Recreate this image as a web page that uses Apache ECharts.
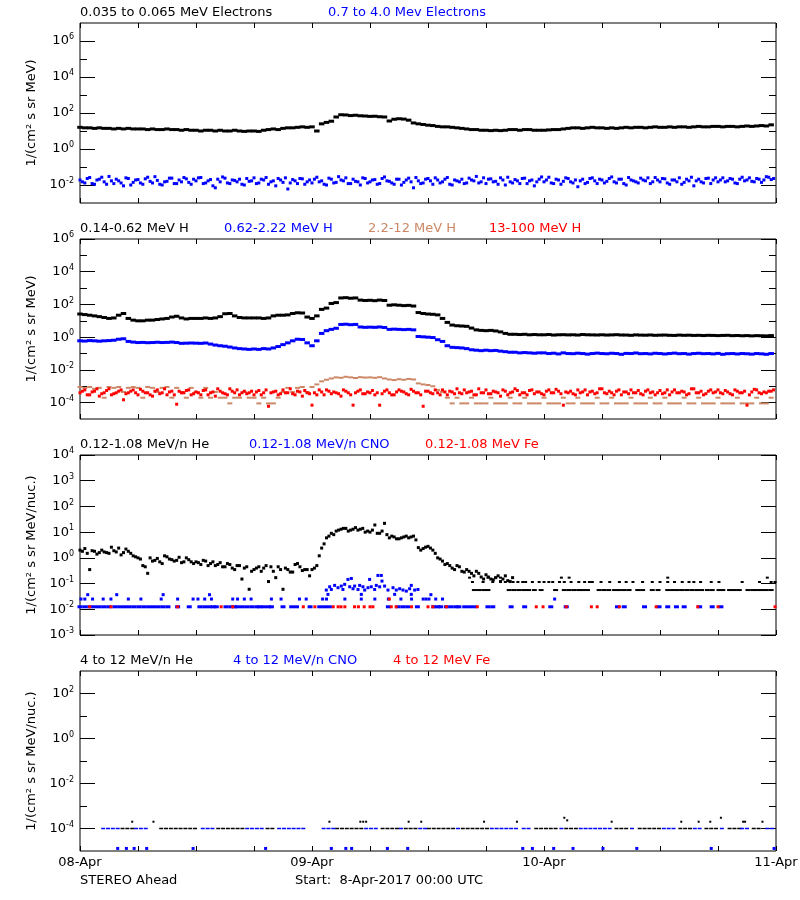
<!DOCTYPE html>
<html><head><meta charset="utf-8">
<script src="https://cdn.jsdelivr.net/npm/echarts@6/dist/echarts.min.js"></script>
<style>html,body{margin:0;padding:0;background:#fff}#c{width:800px;height:900px}</style>
</head><body><div id="c"></div><script>
// ---------------- DATA ----------------
const STEP_H = 0.5;   // sample spacing of the continuous series (hours from 08-Apr 00:00)
const OFFSET_H = 0.25; // second sample set, taken between the first ones
const dayLabels = ['08-Apr', '09-Apr', '10-Apr', '11-Apr'];

// Panel 1: electrons
const eLow = [16,15,15,14,15,14,14,13,14,13,14,13,
 13,13,12,13,12,12,13,12,12,11,12,11,
 11,10,11,11,10,11,10,10,11,10,9.5,10,
 10,9.5,11,12,13,12,14,15,15,16,17,16,
 17,10,25,30,35,60,80,78,72,75,70,68,
 65,66,62,60,36,45,48,46,40,28,25,23,
 21,20,18,17,17,16,15,14,13,12,12,11,
 11,10.5,11,10.5,11,12,12,11,12,12,11,11,
 11,11.5,12,12,13,14,15,15,14,15,16,15,
 15,14,15,14,15,16,15,16,16,15,16,17,
 16,16,17,16,17,17,16,17,18,17,17,18,
 18,17,18,18,17,18,19,18,19,20,19,22];
const eHigh = [0.019,0.013,0.026,0.011,0.021,0.015,0.030,0.012,0.017,0.009,0.023,0.014,
 0.020,0.011,0.027,0.013,0.018,0.010,0.016,0.024,0.012,0.015,0.022,0.011,
 0.017,0.026,0.013,0.020,0.007,0.015,0.024,0.012,0.018,0.021,0.010,0.016,
 0.025,0.013,0.019,0.011,0.017,0.023,0.014,0.006,0.020,0.012,0.022,0.015,
 0.013,0.027,0.017,0.010,0.021,0.014,0.019,0.025,0.012,0.016,0.010,0.023,
 0.015,0.020,0.012,0.028,0.016,0.011,0.021,0.014,0.024,0.007,0.017,0.013,
 0.023,0.011,0.019,0.015,0.026,0.010,0.017,0.021,0.013,0.019,0.030,0.015,
 0.012,0.022,0.016,0.025,0.010,0.015,0.020,0.012,0.024,0.017,0.009,0.021,
 0.015,0.027,0.012,0.019,0.016,0.023,0.013,0.008,0.021,0.014,0.025,0.012,
 0.019,0.016,0.028,0.013,0.021,0.010,0.019,0.015,0.024,0.017,0.012,0.026,
 0.015,0.022,0.011,0.019,0.025,0.014,0.017,0.009,0.021,0.013,0.024,0.019,
 0.015,0.025,0.017,0.021,0.012,0.027,0.019,0.016,0.023,0.014,0.029,0.020];
const eHighB = [0.015,0.023,0.012,0.019,0.027,0.011,0.017,0.021,0.013,0.025,0.010,0.019,
 0.013,0.022,0.016,0.029,0.011,0.015,0.024,0.012,0.019,0.026,0.014,0.021,
 0.025,0.012,0.017,0.009,0.021,0.028,0.013,0.019,0.015,0.011,0.023,0.017,
 0.012,0.021,0.026,0.015,0.009,0.019,0.025,0.013,0.017,0.023,0.011,0.019,
 0.021,0.015,0.011,0.024,0.013,0.029,0.017,0.012,0.021,0.015,0.025,0.013,
 0.019,0.011,0.023,0.017,0.013,0.021,0.010,0.019,0.015,0.026,0.012,0.021,
 0.017,0.025,0.013,0.021,0.011,0.019,0.015,0.012,0.024,0.017,0.013,0.025,
 0.021,0.015,0.011,0.019,0.027,0.013,0.017,0.023,0.012,0.019,0.015,0.028,
 0.019,0.013,0.021,0.011,0.025,0.015,0.019,0.017,0.012,0.023,0.017,0.021,
 0.013,0.023,0.015,0.021,0.012,0.026,0.017,0.013,0.019,0.025,0.015,0.019,
 0.023,0.013,0.019,0.015,0.011,0.021,0.027,0.017,0.015,0.023,0.012,0.025,
 0.019,0.015,0.023,0.013,0.021,0.017,0.025,0.015,0.021,0.019,0.027,0.023];

// Panel 2: protons
const hA = [26,24,22,20,18,16,14,15,22,28,14,11,
 10,10,11,11,12,13,14,17,19,15,13,14,
 14,14,15,14,15,18,27,28,20,16,15,15,
 15,15,14,15,20,22,22,23,28,31,30,17,
 14,20,50,60,115,130,250,260,240,250,185,175,
 180,170,185,175,90,95,90,85,88,80,32,28,
 26,25,23,14,8,5.5,5,4.8,4.6,3.6,2.8,2.6,
 2.5,2.6,2.4,2.1,1.7,1.5,1.5,1.45,1.5,1.4,1.45,1.4,
 1.4,1.45,1.35,1.4,1.42,1.38,1.4,1.35,1.45,1.4,1.38,1.36,
 1.4,1.35,1.38,1.42,1.36,1.35,1.3,1.38,1.34,1.32,1.36,1.3,
 1.33,1.35,1.3,1.28,1.34,1.3,1.32,1.28,1.3,1.26,1.3,1.28,
 1.25,1.28,1.3,1.24,1.27,1.22,1.25,1.2,1.24,1.22,1.2,1.25];
const hB = [0.6,0.58,0.62,0.6,0.57,0.6,0.62,0.65,0.75,0.8,0.55,0.5,
 0.47,0.48,0.46,0.47,0.49,0.47,0.48,0.5,0.47,0.42,0.43,0.44,
 0.43,0.42,0.44,0.38,0.33,0.3,0.28,0.25,0.22,0.2,0.19,0.18,
 0.19,0.18,0.2,0.19,0.22,0.27,0.35,0.45,0.6,0.75,0.72,0.45,
 0.3,0.6,1.7,2.5,3,3.5,6,6.2,5.8,6,4.2,4,
 4.1,4,4.2,3.9,3,3.1,3,2.9,3,2.8,1.1,1.05,
 1.0,0.95,0.7,0.55,0.3,0.24,0.23,0.22,0.2,0.17,0.16,0.15,
 0.16,0.15,0.155,0.14,0.13,0.12,0.12,0.11,0.115,0.11,0.105,0.11,
 0.11,0.1,0.105,0.095,0.11,0.1,0.098,0.105,0.1,0.092,0.1,0.106,
 0.1,0.097,0.104,0.1,0.09,0.102,0.1,0.108,0.098,0.1,0.095,0.104,
 0.1,0.094,0.1,0.106,0.098,0.1,0.092,0.1,0.104,0.098,0.1,0.095,
 0.102,0.09,0.098,0.1,0.094,0.1,0.097,0.092,0.1,0.096,0.09,0.1];
const hC = [9e-4,8e-4,9e-4,7e-4,8e-4,2e-4,9e-4,8e-4,9e-4,4.5e-4,8e-4,9e-4,
 8e-4,2e-4,9e-4,8e-4,4.5e-4,8e-4,9e-4,2e-4,8e-4,4.5e-4,2e-4,8e-4,
 4.5e-4,2e-4,8e-4,2e-4,4.5e-4,2e-4,2e-4,9e-5,2e-4,2e-4,4.5e-4,2e-4,
 2e-4,9e-5,2e-4,9e-5,9e-5,2e-4,4.5e-4,8e-4,4.5e-4,8e-4,9e-4,4.5e-4,
 9e-4,1.3e-3,2e-3,2.5e-3,3e-3,3.5e-3,3.3e-3,3.8e-3,3.5e-3,3.2e-3,3.6e-3,3.4e-3,
 3.5e-3,3.3e-3,3.6e-3,3e-3,2.6e-3,2.4e-3,2.7e-3,2.5e-3,2.8e-3,2.6e-3,1.5e-3,1.3e-3,
 1.2e-3,1e-3,6e-4,4.5e-4,2e-4,9e-5,2e-4,9e-5,9e-5,2e-4,9e-5,9e-5,
 9e-5,2e-4,9e-5,9e-5,9e-5,2e-4,9e-5,9e-5,2e-4,9e-5,9e-5,9e-5,
 2e-4,9e-5,9e-5,9e-5,2e-4,9e-5,9e-5,2e-4,9e-5,9e-5,9e-5,2e-4,
 9e-5,9e-5,2e-4,9e-5,9e-5,9e-5,2e-4,9e-5,9e-5,9e-5,2e-4,9e-5,
 9e-5,2e-4,9e-5,9e-5,9e-5,2e-4,9e-5,9e-5,2e-4,9e-5,9e-5,9e-5,
 2e-4,9e-5,9e-5,9e-5,2e-4,9e-5,9e-5,9e-5,2e-4,9e-5,9e-5,2e-4];
const hD = [4e-4,6e-4,3e-4,5e-4,2.5e-4,4e-4,7e-4,3.5e-4,5e-4,1.5e-4,4e-4,6e-4,
 3e-4,5e-4,4e-4,2.5e-4,6e-4,4e-4,3e-4,5e-4,8e-5,4e-4,5.5e-4,3e-4,
 4.5e-4,3e-4,6e-4,4e-4,2.5e-4,5e-4,3.5e-4,7e-4,4e-4,3e-4,5e-4,4e-4,
 3e-4,5.5e-4,4e-4,6e-5,4.5e-4,3e-4,6e-4,4e-4,3.5e-4,5e-4,2.5e-4,4e-4,
 7e-5,3e-4,4.5e-4,6e-4,3.5e-4,4e-4,2.5e-4,5e-4,3e-4,4e-4,6e-4,3.5e-4,
 4e-4,3e-4,7e-5,5e-4,4e-4,3e-4,6e-4,4.5e-4,3e-4,5e-4,4e-4,6e-5,
 5e-4,3.5e-4,4e-4,6e-4,3e-4,4.5e-4,7e-4,3.5e-4,4e-4,5e-4,3e-4,4e-4,
 6e-4,3.5e-4,4.5e-4,2.5e-4,5e-4,4e-4,7e-4,3e-4,4e-4,5.5e-4,3.5e-4,4.5e-4,
 3e-4,6e-4,4e-4,5e-4,7e-5,4e-4,3.5e-4,6e-4,4.5e-4,3e-4,5e-4,4e-4,
 7e-4,3.5e-4,4e-4,5e-4,3e-4,4.5e-4,6e-4,4e-4,3.5e-4,5e-4,4e-4,3e-4,
 5.5e-4,4e-4,3e-4,6e-4,4e-4,4.5e-4,3.5e-4,7e-4,4e-4,3e-4,5e-4,4e-4,
 6e-4,3.5e-4,4.5e-4,3e-4,5e-4,4e-4,7e-5,4.5e-4,6e-4,3.5e-4,4e-4,5e-4];
const hDB = [5e-4,3e-4,4.5e-4,7e-4,3.5e-4,5.5e-4,3e-4,4e-4,6e-4,3.5e-4,5e-4,4e-4,
 6.5e-4,4e-4,3e-4,5e-4,3.5e-4,7e-4,4.5e-4,3e-4,5e-4,4e-4,6e-4,3.5e-4,
 4e-4,5.5e-4,3e-4,4.5e-4,7e-4,4e-4,3e-4,5e-4,6e-4,4e-4,3.5e-4,5e-4,
 4.5e-4,3e-4,6e-4,4e-4,5e-4,3.5e-4,4e-4,7e-4,3e-4,4.5e-4,5.5e-4,3.5e-4,
 4e-4,6e-4,3e-4,5e-4,4.5e-4,3.5e-4,6e-4,4e-4,7e-5,5e-4,3.5e-4,4.5e-4,
 5.5e-4,4e-4,3.5e-4,6e-4,3e-4,4.5e-4,5e-4,3.5e-4,6.5e-4,4e-4,3e-4,5e-4,
 4e-4,6e-4,3e-4,4.5e-4,5e-4,3.5e-4,4e-4,6e-4,4.5e-4,3e-4,7e-4,4e-4,
 3.5e-4,5e-4,4e-4,6e-4,3e-4,4.5e-4,5.5e-4,4e-4,3e-4,6e-4,4.5e-4,3.5e-4,
 5e-4,4e-4,6.5e-4,3.5e-4,4.5e-4,5e-4,3e-4,4e-4,6e-4,4.5e-4,3.5e-4,7e-4,
 4e-4,5e-4,3e-4,6e-4,4.5e-4,3.5e-4,4e-4,5.5e-4,3e-4,6e-4,4.5e-4,4e-4,
 3.5e-4,6e-4,4.5e-4,4e-4,5e-4,3e-4,7e-4,4e-4,5e-4,3.5e-4,6e-4,4.5e-4,
 4e-4,5.5e-4,3.5e-4,6e-4,4e-4,5e-4,3e-4,6.5e-4,4e-4,4.5e-4,5e-4,6e-4];

// Panel 3: 0.12-1.08 MeV/n ions
const heCont = [2.0,2.3,0.35,1.8,1.6,1.7,1.5,1.9,2.4,1.6,1.8,1.2,
 1.0,0.5,0.25,0.75,0.95,0.6,1.1,0.85,0.8,0.65,1.0,0.7,
 0.7,0.55,0.75,0.6,0.5,0.65,0.45,0.55,0.35,0.5,0.4,0.06,
 0.35,0.45,0.4,0.12,0.3,0.45,0.06,0.35,0.28,0.6,0.32,0.35,
 0.35,0.5,2.4,6,9,11,13,14,12,15,13,10,
 10,19,9,22,6,6.5,5.5,6.5,6,7,2.5,2.3,
 2.8,2.0,1.0,0.75,0.6,0.4,0.5,0.3,0.35,0.25,0.3,0.18,
 0.22,0.15,0.17,0.12,0.2,0.12];
const heContB = [1.8,1.5,1.9,1.4,2.0,1.6,2.6,1.7,1.3,2.2,1.5,1.1,
 0.9,0.45,1.0,0.8,0.7,1.2,0.9,0.75,1.05,0.7,0.85,0.6,
 0.65,0.8,0.5,0.7,0.55,0.45,0.6,0.4,0.5,0.15,0.45,0.3,
 0.4,0.3,0.5,0.45,0.17,0.35,0.4,0.28,0.55,0.45,0.35,0.2,
 0.4,1.2,3.5,7,8,12,14,11,13,12,14,11,
 12,9,11,8,7,5.5,6,7,6.5,5,2.0,2.6,
 2.4,1.5,0.9,0.55,0.5,0.35,0.45,0.28,0.3,0.2,0.25,0.15,
 0.18,0.14,0.2,0.15,0.13,0.17];
const HE_LVL_LO = 0.056, HE_LVL_MID = 0.115, HE_LVL_HI = 0.17;
const heLoTimes = [40.8,41.3,41.8,42.2,44.4,44.9,45.4,45.9,46.4,47.0,47.7,49.2,50.1,50.6,51.1,51.6,52.0,52.5,
 53.7,54.2,54.7,55.3,55.8,56.3,56.8,57.7,58.2,59.2,59.8,60.8,61.3,61.8,62.3,62.8,63.3,63.8,64.3,64.9,65.4,
 66.1,66.5,67.2,67.7,68.2,69.1,69.6,70.0,70.5,71.0,71.5];
const heMidTimes = [40.6,41.7,42.7,44.0,44.8,45.3,45.8,46.1,46.8,47.5,48.0,48.5,48.9,49.6,50.1,50.8,51.6,52.2,
 52.7,53.0,53.9,54.8,55.8,56.5,57.2,58.2,59.2,60.0,60.8,61.5,62.3,63.0,63.5,64.2,65.3,66.1,68.5,70.3,71.5,71.9];
const heHiTimes = [40.3,42.2,43.0,43.5,49.8,50.6,60.8,71.1];
const CNO_LVL1 = 0.0125, CNO_LVL2 = 0.025, CNO_LVL3 = 0.037;
const cnoLvl1Times = [0,0.5,1.0,1.5,2.0,2.5,3.0,3.6,4.1,4.6,5.1,5.6,6.1,6.6,7.1,7.6,8.1,8.6,9.1,10.1,11.3,12.4,
 12.9,13.4,13.8,14.1,15.1,15.6,16.0,16.3,16.8,17.3,17.8,18.3,18.6,19.0,19.5,19.8,21.0,21.9,22.4,23.8,24.8,25.3,
 25.8,31.9,32.9,33.4,33.9,34.9,36.6,37.0,37.3,37.9,38.4,38.9,39.2,39.8,40.3,40.8,42.2,42.7,44.6,46.0,48.7,50.3,
 55.6,56.3,58.4,59.9,60.8,61.7,62.5,64.1,65.4,66.3];
const cnoLvl2Times = [0.1,0.5,1.3,2.4,3.2,5.0,6.3,8.4,10.1,11.7,12.2,12.9,13.6,15.8,16.3,17.0,17.7,19.8,20.8,
 22.7,23.4,25.1,25.5,27.4,29.1,30.5,31.9,33.2,34.3,35.5,35.8,36.1,36.8,37.5,49.1];
const cnoLvl3Times = [0.8,3.8,8.6,13.4,36.3];
const cnoEvent = [[25.48,0.056],[25.65,0.038],[25.83,0.075],[26.0,0.059],[26.34,0.085],[26.69,0.069],[27.03,0.08],
 [27.2,0.059],[27.38,0.093],[27.72,0.145],[27.9,0.075],[28.07,0.158],[28.24,0.063],[28.41,0.08],[28.76,0.059],
 [28.93,0.085],[29.1,0.038],[29.27,0.075],[29.45,0.056],[29.79,0.069],[29.96,0.145],[30.13,0.075],[30.48,0.059],
 [30.65,0.085],[30.82,0.207],[31.0,0.075],[31.17,0.207],[31.24,0.125],[31.51,0.08],[31.86,0.056],[32.38,0.069],
 [32.55,0.038],[32.72,0.056],[33.07,0.063],[33.41,0.056],[33.76,0.051],[34.1,0.063],[34.27,0.085],[34.27,0.038],
 [34.62,0.056],[34.96,0.059]];
const FE_LVL1 = 0.0125, FE_LVL2 = 0.025;
const feLvl1Times = [1.0,3.2,10.1,14.6,15.8,23.1,24.3,26.2,26.7,27.0,27.4,28.4,28.8,29.4,30.0,30.3,32.2,32.7,34.3,
 36.0,36.5,37.9,41.1,47.2,47.9,50.3,52.9,53.5,55.8,59.6,63.9,66.0,71.9];
const feLvl2Times = [32.0];

// Panel 4: 4-12 MeV/n ions
const P4_LVL = 1e-4, P4_LOW = 1.3e-5;
const p4HeTimes = [4.4,4.9,5.4,8.4,8.9,9.4,9.9,10.4,10.9,11.4,11.9,14.3,14.8,15.3,15.8,16.3,16.8,19.4,19.9,
 26.6,27.1,27.6,28.1,28.6,29.1,31.3,31.8,32.3,32.8,33.7,34.2,34.7,36.1,36.6,37.1,37.6,38.1,38.6,39.6,40.1,40.6,
 41.1,41.6,42.1,47.2,47.7,48.2,48.7,49.2,50.3,50.8,51.3,55.5,56.0,56.5,57.9,58.4,58.9,59.4,59.9,62.1,62.6,63.1,
 64.8,65.3,65.8,67.2,67.7,68.2,69.7,70.2];
const p4HeHigh = [[5.4,2e-4],[7.6,2e-4],[25.8,2e-4],[29.0,2e-4],[29.3,2e-4],[29.6,2e-4],[34.0,2e-4],[35.3,2e-4],
 [41.8,2e-4],[45.2,2e-4],[50.1,3e-4],[50.4,2.3e-4],[55.0,2e-4],[62.2,2e-4],[64.0,2e-4],[65.2,2e-4],[66.3,3e-4],
 [68.6,2e-4],[68.8,2e-4],[70.6,2e-4]];
const p4CnoTimes = [2.4,2.9,3.4,3.9,5.8,6.3,6.8,12.7,13.2,13.7,17.3,17.8,18.3,18.8,20.6,21.1,21.6,22.1,22.6,23.1,
 25.2,25.7,26.2,29.6,30.1,30.6,33.2,35.2,35.7,39.1,42.6,43.1,43.6,44.1,44.6,45.1,45.9,46.4,49.8,51.8,52.3,52.8,
 53.3,53.8,54.3,54.8,57.1,60.4,60.9,61.4,63.6,64.1,66.4,68.5,69.0,71.1,71.6];
const p4CnoLowTimes = [3.9,4.8,5.6,6.9,11.7,19.2,26.0,27.5,28.1,31.8,33.9,45.8,46.8,49.0,51.0,54.1,57.6,65.3,71.8];

// Panel labels
const panelTitles = [
  [['0.035 to 0.065 MeV Electrons', '#000000', 80], ['0.7 to 4.0 Mev Electrons', '#0000ff', 328]],
  [['0.14-0.62 MeV H', '#000000', 80], ['0.62-2.22 MeV H', '#0000ff', 224], ['2.2-12 MeV H', '#cc8866', 368], ['13-100 MeV H', '#ff0000', 489]],
  [['0.12-1.08 MeV/n He', '#000000', 80], ['0.12-1.08 MeV/n CNO', '#0000ff', 249], ['0.12-1.08 MeV Fe', '#ff0000', 425]],
  [['4 to 12 MeV/n He', '#000000', 80], ['4 to 12 MeV/n CNO', '#0000ff', 233], ['4 to 12 MeV Fe', '#ff0000', 393]]
];
const yNames = ['1/(cm² s sr MeV)', '1/(cm² s sr MeV)', '1/(cm² s sr MeV/nuc.)', '1/(cm² s sr MeV/nuc.)'];
const yRange = [[1e-3, 1e7], [1e-5, 1e6], [1e-3, 1e4], [1e-5, 1e3]];
const yMajor = [[1e-2, 1, 1e2, 1e4, 1e6], [1e-4, 1e-2, 1, 1e2, 1e4, 1e6],
  [1e-3, 1e-2, 1e-1, 1, 1e1, 1e2, 1e3, 1e4], [1e-4, 1e-2, 1, 1e2]];
const yMinor = [[1e-1, 1e1, 1e3, 1e5], [1e-3, 1e-1, 1e1, 1e3, 1e5], [], [1e-3, 1e-1, 1e1]];
const footLeft = 'STEREO Ahead';
const footMid = 'Start:  8-Apr-2017 00:00 UTC';

// ---------------- CHART ----------------
const FONT = 'DejaVu Sans';
const C_BLACK = '#000000', C_BLUE = '#0000ff', C_BROWN = '#cc8866', C_RED = '#ff0000';
const GRID_TOP = [23, 239, 455, 671];
const chart = echarts.init(document.getElementById('c'), null, {renderer: 'canvas'});

const grids = [], xAxes = [], yAxes = [], series = [], graphics = [];
function supLabel(v) {
  const e = Math.round(Math.log10(v));
  return '{b|10}{s|' + e + '}';
}
for (let g = 0; g < 4; g++) {
  grids.push({left: 80, top: GRID_TOP[g], width: 696, height: 180, show: true,
    borderColor: '#000', borderWidth: 1, backgroundColor: 'transparent', outerBoundsMode: 'none', containLabel: false});
  const xBase = {type: 'value', gridIndex: g, min: 0, max: 72, interval: 6,
    axisLine: {show: false}, splitLine: {show: false},
    axisTick: {show: true, inside: true, length: 5, lineStyle: {color: '#000', width: 1}}};
  xAxes.push(Object.assign({}, xBase, {position: 'bottom',
    axisLabel: g === 3 ? {show: true, customValues: [0, 24, 48, 72], color: '#000', fontSize: 13, fontFamily: FONT, margin: 5,
      formatter: v => dayLabels[Math.round(v / 24)]} : {show: false}}));
  xAxes.push(Object.assign({}, xBase, {position: 'top', axisLabel: {show: false}}));
  const yBase = {type: 'log', logBase: 10, gridIndex: g, min: yRange[g][0], max: yRange[g][1],
    axisLine: {show: false}, splitLine: {show: false}, minorSplitLine: {show: false}};
  const rich = {b: {fontSize: 13, fontFamily: FONT, color: '#000', lineHeight: 16},
    s: {fontSize: 8, fontFamily: FONT, color: '#000', verticalAlign: 'top', lineHeight: 10}};
  yAxes.push(Object.assign({}, yBase, {position: 'left',
    axisTick: {show: true, inside: true, length: 15, customValues: yMajor[g], lineStyle: {color: '#000'}},
    axisLabel: {show: true, customValues: yMajor[g], formatter: supLabel, rich: rich, margin: 6},
    name: yNames[g], nameLocation: 'middle', nameGap: 37, nameRotate: 90,
    nameTextStyle: {color: '#000', fontSize: 13, fontFamily: FONT}}));
  yAxes.push(Object.assign({}, yBase, {position: 'left',
    axisTick: {show: yMinor[g].length > 0, inside: true, length: 7, customValues: yMinor[g].length ? yMinor[g] : [1], lineStyle: {color: '#000'}},
    axisLabel: {show: false}}));
  yAxes.push(Object.assign({}, yBase, {position: 'right',
    axisTick: {show: true, inside: true, length: 15, customValues: yMajor[g], lineStyle: {color: '#000'}},
    axisLabel: {show: false}}));
  yAxes.push(Object.assign({}, yBase, {position: 'right',
    axisTick: {show: yMinor[g].length > 0, inside: true, length: 7, customValues: yMinor[g].length ? yMinor[g] : [1], lineStyle: {color: '#000'}},
    axisLabel: {show: false}}));
  panelTitles[g].forEach(t => graphics.push({type: 'text', x: t[2], y: GRID_TOP[g] - 10,
    style: {text: t[0], fill: t[1], fontSize: 13, fontFamily: FONT, verticalAlign: 'middle', align: 'left'}}));
}
const seq = (arr, off) => arr.map((v, i) => [i * STEP_H + (off || 0), v]);
const lvl = (times, v) => times.map(t => [t, v]);
function sc(g, name, data, color, size) {
  series.push({type: 'scatter', name: name, data: data, xAxisIndex: g * 2, yAxisIndex: g * 4,
    symbol: 'rect', symbolSize: size, itemStyle: {color: color, opacity: 1}, silent: true, animation: false,
    emphasis: {disabled: true}});
}
sc(0, 'e low', seq(eLow), C_BLACK, [5.5, 3]);
sc(0, 'e high', seq(eHigh), C_BLUE, [3, 3]);
sc(0, 'e high b', seq(eHighB, OFFSET_H), C_BLUE, [3, 3]);
sc(1, 'H 0.14-0.62', seq(hA), C_BLACK, [5.5, 3]);
sc(1, 'H 0.62-2.22', seq(hB), C_BLUE, [5.5, 3]);
sc(1, 'H 2.2-12', seq(hC), C_BROWN, [5, 2]);
sc(1, 'H 13-100', seq(hD), C_RED, [3, 3]);
sc(1, 'H 13-100 b', seq(hDB, OFFSET_H), C_RED, [3, 3]);
sc(2, 'He', seq(heCont), C_BLACK, [3, 3]);
sc(2, 'He b', seq(heContB, OFFSET_H), C_BLACK, [3, 3]);
sc(2, 'He lo', lvl(heLoTimes, HE_LVL_LO), C_BLACK, [5, 2]);
sc(2, 'He mid', lvl(heMidTimes, HE_LVL_MID), C_BLACK, [3, 2]);
sc(2, 'He hi', lvl(heHiTimes, HE_LVL_HI), C_BLACK, [3, 2]);
sc(2, 'CNO 1', lvl(cnoLvl1Times, CNO_LVL1), C_BLUE, [5, 3]);
sc(2, 'CNO 2', lvl(cnoLvl2Times, CNO_LVL2), C_BLUE, [3, 3]);
sc(2, 'CNO 3', lvl(cnoLvl3Times, CNO_LVL3), C_BLUE, [3, 3]);
sc(2, 'CNO ev', cnoEvent, C_BLUE, [3, 3]);
sc(2, 'Fe 1', lvl(feLvl1Times, FE_LVL1), C_RED, [3, 3]);
sc(2, 'Fe 2', lvl(feLvl2Times, FE_LVL2), C_RED, [3, 3]);
sc(3, 'He4', lvl(p4HeTimes, P4_LVL), C_BLACK, [4, 1.5]);
sc(3, 'He4 hi', p4HeHigh, C_BLACK, [2, 2]);
sc(3, 'CNO4', lvl(p4CnoTimes, P4_LVL), C_BLUE, [4, 1.5]);
sc(3, 'CNO4 lo', lvl(p4CnoLowTimes, P4_LOW), C_BLUE, [3, 3]);

graphics.push({type: 'text', x: 80, y: 881, style: {text: footLeft, fill: '#000', fontSize: 13, fontFamily: FONT, verticalAlign: 'middle'}});
graphics.push({type: 'text', x: 295, y: 881, style: {text: footMid, fill: '#000', fontSize: 13, fontFamily: FONT, verticalAlign: 'middle'}});

chart.setOption({
  animation: false,
  backgroundColor: '#ffffff',
  textStyle: {fontFamily: FONT},
  grid: grids, xAxis: xAxes, yAxis: yAxes, series: series, graphic: graphics
});
</script></body></html>
